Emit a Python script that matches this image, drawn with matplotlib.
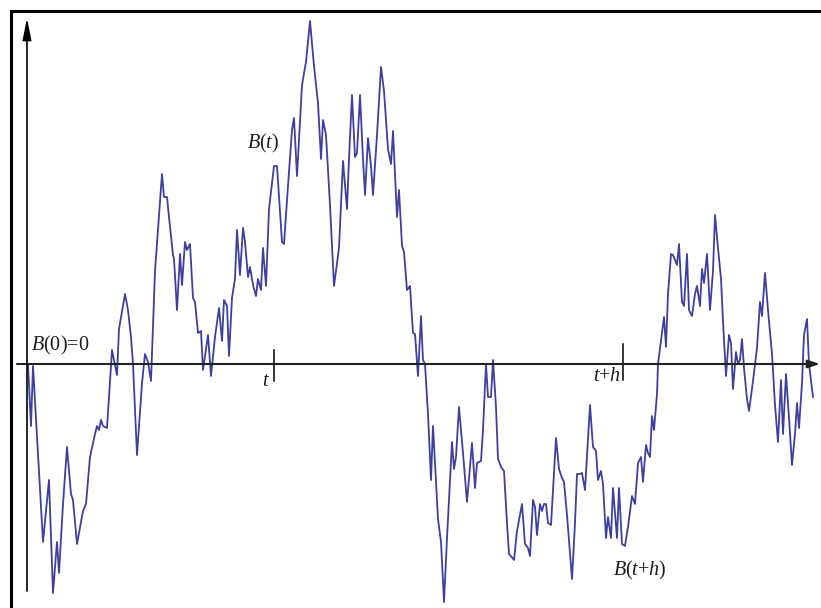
import numpy as np
import matplotlib
matplotlib.use("Agg")
import matplotlib.pyplot as plt
from matplotlib.patches import Rectangle

plt.rcParams['mathtext.fontset'] = 'custom'
plt.rcParams['mathtext.rm'] = 'Liberation Serif'
plt.rcParams['mathtext.it'] = 'Liberation Serif:italic'

# sample path of a Brownian motion B(t)
t_vals = [1, 4, 6, 16, 22, 26, 30, 32, 36, 40, 44, 46, 50, 56, 59, 63, 68, 70, 72, 74,
          76, 80, 85, 90, 92, 98, 101, 104,
          106, 110, 115, 118, 121, 124, 128, 135, 137, 140, 142, 146, 147, 150, 153, 155,
          158, 160, 163, 166, 168, 171, 174, 176, 181, 184, 188, 192, 195, 197, 200, 202,
          205, 208, 210, 213, 216, 218, 221, 223, 226, 229, 231, 234,
          236, 239, 242, 247, 250, 255, 257, 261, 265, 267, 270, 275, 279, 283, 287, 291,
          294, 296, 299, 303, 307, 312, 316, 320, 322, 325, 328, 330, 333, 336, 338, 341,
          344, 346, 350, 354, 357, 361, 364, 366,
          370, 372, 375, 377, 380, 383, 386, 388, 391, 394, 396, 398, 401, 404, 406, 411,
          414, 417, 420, 425, 427, 429, 432, 436, 440, 445, 448, 450, 454, 456, 459, 461,
          464, 466, 469, 471, 474, 477, 480, 482, 487, 490, 495,
          498, 501, 503, 506, 508, 510, 513, 515, 517, 519, 521, 524, 529, 532, 535, 537,
          540, 545, 548, 550, 553, 555, 558, 563, 566, 569, 571, 574, 576, 579, 581, 584,
          586, 590, 592, 595, 598, 601, 605, 608, 611, 614, 616, 619, 621,
          623, 625, 627, 630, 631, 635, 637, 639, 641, 644, 646, 650, 652, 655, 657, 660,
          662, 665, 668, 670, 673, 675, 677, 680, 683, 686, 688, 691, 694, 696, 699, 702,
          704, 706, 709, 711, 713, 715, 717, 720, 722, 726, 730, 733, 735, 738, 741, 745,
          748, 751, 754, 756, 759, 762, 765, 768, 770, 772, 775, 777, 780, 782, 786]
b_vals = [0, -62, -2, -178, -116, -229, -178, -209, -140, -83, -130, -136, -180, -147, -140, -93, -70, -62, -66, -56,
          -62, -64, 14, -11, 35, 70, 54, 27,
          0, -91, -19, 10, 2, -17, 93, 190, 167, 167, 147, 109, 105, 54, 110, 79,
          122, 114, 120, 66, 62, 31, 33, -6, 29, -12, 27, 56, 23, 64, 58, 8,
          66, 85, 134, 89, 136, 122, 87, 97, 79, 68, 85, 74,
          116, 78, 155, 198, 198, 122, 120, 178, 234, 246, 188, 279, 302, 343, 298, 261,
          205, 244, 229, 159, 78, 116, 203, 155, 205, 269, 207, 211, 269, 205, 169, 226,
          198, 169, 229, 297, 273, 215, 200, 233,
          147, 174, 118, 112, 74, 78, 31, 30, -12, 48, 4, 0, -50, -116, -62, -155,
          -178, -238, -174, -78, -105, -93, -43, -89, -138, -79, -124, -99, -97, -66, 0, -33,
          -33, 4, -43, -95, -103, -107, -159, -190, -196, -167, -140,
          -180, -184, -192, -136, -143, -171, -140, -147, -140, -140, -159, -161, -74, -105, -114, -118,
          -151, -215, -159, -110, -110, -109, -126, -41, -83, -87, -116, -107, -120, -174, -153, -174,
          -124, -174, -124, -180, -182, -163, -132, -140, -99, -93, -118, -81, -89,
          -93, -52, -66, -30, 0, 31, 47, 17, 70, 110, 109, 99, 120, 62, 58, 110,
          54, 48, 70, 78, 58, 95, 81, 110, 54, 93, 149, 116, 85, 43, -12, 29,
          21, -25, 12, 0, 4, 25, -4, -35, -47, -17, 16, 62, 48, 91, 54, 10,
          -41, -78, -16, -70, -10, -54, -101, -70, -39, -64, -19, 29, 45, 0, -33]

t_mark = 247
th_mark = 596

fig = plt.figure(figsize=(8.21, 6.08), dpi=100)
ax = fig.add_axes([0, 0, 1, 1])
ax.set_xlim(-27, 794)
ax.set_ylim(-244, 364)
ax.axis('off')

# outer frame (runs off the right and bottom edges)
fig.patches.append(Rectangle((10.5 / 821, -0.2), 1.2, 1.2 - 10.5 / 608,
                             transform=fig.transFigure, fill=False,
                             lw=2.2, edgecolor='black', clip_on=False))

# coordinate axes
ax.annotate('', xy=(793, 0), xytext=(-10, 0),
            arrowprops=dict(arrowstyle='-|>,head_length=0.6,head_width=0.2',
                            lw=1.5, color='#222222', mutation_scale=12,
                            shrinkA=0, shrinkB=0))
ax.annotate('', xy=(0, 346), xytext=(0, -227),
            arrowprops=dict(arrowstyle='-|>,head_length=1.1,head_width=0.22',
                            lw=1.2, color='black', mutation_scale=12,
                            shrinkA=0, shrinkB=0))

# tick marks at t and t+h
ax.plot([t_mark, t_mark], [14, -17], color='black', lw=1.1)
ax.plot([th_mark, th_mark], [20, -16], color='black', lw=1.1)

ax.plot(t_vals, b_vals, color='#3f3f9f', lw=1.3)

fs = 14.5
kw = dict(fontsize=fs, fontfamily='Liberation Serif', color='#1a1a1a', va='baseline')
ax.text(4, 14, r'$B$(0)=0', ha='left', **kw)
ax.text(220, 216, r'$B$($t$)', ha='left', **kw)
ax.text(t_mark - 4, -22, r'$t$', ha='right', **kw)
ax.text(th_mark - 2, -17, r'$t$+$h$', ha='right', **kw)
ax.text(586, -211, r'$B$($t$+$h$)', ha='left', **kw)

fig.savefig('out.png', dpi=100)
